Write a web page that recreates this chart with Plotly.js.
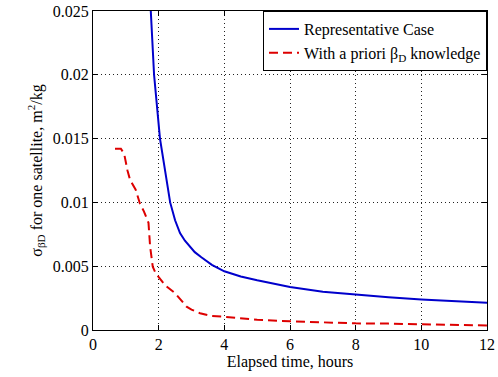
<!DOCTYPE html>
<html><head><meta charset="utf-8">
<script src="https://cdn.plot.ly/plotly-3.0.1.min.js"></script>
<style>html,body{margin:0;padding:0;background:#fff;}#chart{width:498px;height:377px;}</style>
</head><body><div id="chart"></div>
<script>
const repTime = [1.76,1.86,2.04,2.2,2.35,2.5,2.65,2.8,2.96,3.1,3.3,3.62,4.0,4.5,5.0,5.7,6.0,7.0,8.0,9.0,10.0,11.0,12.0];
const repSigma = [0.025,0.020,0.015,0.0124,0.0100,0.0086,0.0076,0.0070,0.0065,0.0061,0.0057,0.0051,0.0046,0.0042,0.0039,0.00353,0.00337,0.0030,0.00277,0.00257,0.0024,0.00226,0.00214];
const aprTime = [0.67,0.85,0.95,0.98,1.05,1.13,1.3,1.43,1.55,1.69,1.72,1.74,1.82,1.9,1.99,2.2,2.5,2.85,3.0,3.26,3.6,3.97,5.0,5.7,6.0,7.0,8.0,9.0,10.0,11.0,12.0];
const aprSigma = [0.0142,0.0142,0.0138,0.0133,0.0125,0.01175,0.0110,0.0099,0.0093,0.0084,0.0075,0.00653,0.00496,0.0045,0.00418,0.0035,0.00288,0.00183,0.0016,0.00131,0.0011,0.00104,0.0008,0.0007,0.00068,0.0006,0.00052,0.0005,0.00047,0.0004,0.00036];
const seriesNames = ['Representative Case','With a priori β<sub>D</sub> knowledge'];
const xTicks = [0,2,4,6,8,10,12];
const yTicks = [0,0.005,0.01,0.015,0.02,0.025];
const yTickText = ['0','0.005','0.01','0.015','0.02','0.025'];

function serif(){ return {family:'Liberation Serif', size:16, color:'#000'}; }
const traces = [
  {x:repTime, y:repSigma, mode:'lines', name:seriesNames[0], line:{color:'#0000cc', width:2}},
  {x:aprTime, y:aprSigma, mode:'lines', name:seriesNames[1], line:{color:'#dd0000', width:2, dash:'9px,5px'}}
];
function axis(extra){
  return Object.assign({showline:true, linecolor:'#000', linewidth:1, mirror:'allticks', ticks:'inside', ticklen:5, tickcolor:'#000',
    showgrid:true, gridcolor:'#222', griddash:'1px,3px', gridwidth:1, zeroline:false, tickfont:serif()}, extra);
}
const layout = {
  width:498, height:377, margin:{l:93, r:11, t:11, b:47}, paper_bgcolor:'#fff', plot_bgcolor:'#fff',
  font:serif(), showlegend:true,
  legend:{x:1, xanchor:'right', y:1, yanchor:'top', bgcolor:'#fff', bordercolor:'#000', borderwidth:1, font:serif()},
  xaxis:axis({range:[0,12], tickvals:xTicks, ticktext:xTicks.map(String),
    title:{text:'Elapsed time, hours', font:serif(), standoff:0}}),
  yaxis:axis({range:[0,0.025], tickvals:yTicks, ticktext:yTickText,
    title:{text:'σ<sub>βD</sub> for one satellite, m<sup>2</sup>/kg', font:serif(), standoff:6}})
};
Plotly.newPlot('chart', traces, layout, {displayModeBar:false});
</script></body></html>
